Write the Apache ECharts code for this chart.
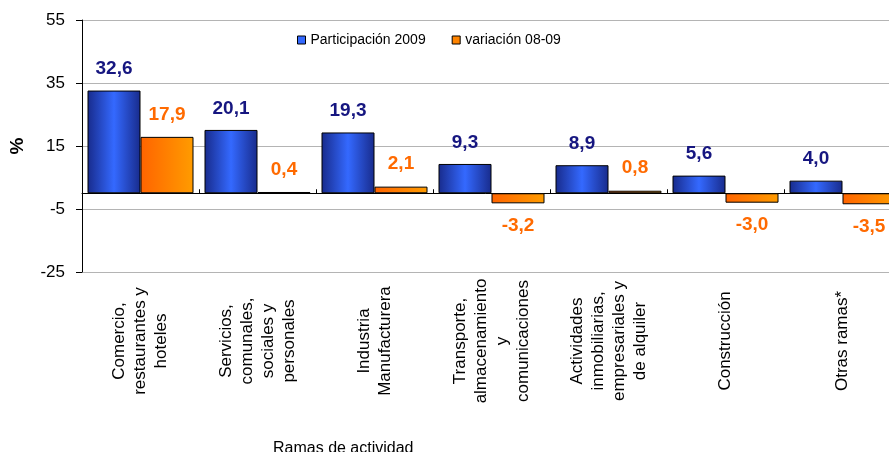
<!DOCTYPE html>
<html>
<head>
<meta charset="utf-8">
<script src="https://cdn.jsdelivr.net/npm/echarts@6/dist/echarts.min.js"></script>
<style>
  html, body { margin: 0; padding: 0; background: #ffffff; }
  #chart { width: 889px; height: 452px; }
</style>
</head>
<body>
<div id="chart"></div>
<script>
// datos del grafico
const ramas = [
  'Comercio,\nrestaurantes y\nhoteles',
  'Servicios,\ncomunales,\nsociales y\npersonales',
  'Industria\nManufacturera',
  'Transporte,\nalmacenamiento\ny\ncomunicaciones',
  'Actividades\ninmobiliarias,\nempresariales y\nde alquiler',
  'Construcción',
  'Otras ramas*'
];
const participacion2009 = [32.6, 20.1, 19.3, 9.3, 8.9, 5.6, 4.0];
const variacion0809 = [17.9, 0.4, 2.1, -3.2, 0.8, -3.0, -3.5];
const yTicks = [-25, -5, 15, 35, 55];

const fuente = 'Liberation Sans, Arial, sans-serif';
const fmt = v => v.toFixed(1).replace('.', ',');

const azul = new echarts.graphic.LinearGradient(0, 0, 1, 0, [
  { offset: 0, color: '#182b8c' },
  { offset: 0.5, color: '#3469ff' },
  { offset: 1, color: '#182b8c' }
]);
const naranja = new echarts.graphic.LinearGradient(0, 0, 1, 0, [
  { offset: 0, color: '#ff6400' },
  { offset: 1, color: '#ff9c00' }
]);

// etiquetas arriba o abajo segun el signo
const conEtiqueta = (values, color, dist) => values.map(v => ({
  value: v,
  label: {
    show: true,
    position: v < 0 ? 'bottom' : 'top',
    distance: dist,
    color: color,
    fontFamily: fuente,
    fontWeight: 'bold',
    fontSize: 19,
    formatter: p => fmt(p.value)
  }
}));

const chart = echarts.init(document.getElementById('chart'));
const option = {
  animation: false,
  backgroundColor: '#ffffff',
  textStyle: { fontFamily: fuente },
  grid: { left: 82, top: 20, bottom: 180, right: -12, containLabel: false, outerBoundsMode: 'none' },
  legend: {
    left: 297,
    top: 33,
    padding: 0,
    itemWidth: 8,
    itemHeight: 8,
    itemGap: 26,
    textStyle: { fontFamily: fuente, fontSize: 14, color: '#000000' },
    data: [
      { name: 'Participación 2009', icon: 'rect', itemStyle: { color: '#3469ff', borderColor: '#000000', borderWidth: 1 } },
      { name: 'variación 08-09', icon: 'rect', itemStyle: { color: '#ff8400', borderColor: '#000000', borderWidth: 1 } }
    ]
  },
  xAxis: {
    type: 'category',
    data: ramas,
    axisLine: { onZero: true, lineStyle: { color: '#000000', width: 1 } },
    axisTick: { show: true, inside: true, length: 4, lineStyle: { color: '#000000' } },
    axisLabel: {
      rotate: 90,
      align: 'center',
      verticalAlign: 'middle',
      margin: 69,
      interval: 0,
      hideOverlap: false,
      fontFamily: fuente,
      fontSize: 17,
      lineHeight: 21,
      color: '#000000'
    }
  },
  yAxis: {
    type: 'value',
    min: yTicks[0],
    max: yTicks[yTicks.length - 1],
    interval: 20,
    name: '%',
    nameLocation: 'middle',
    nameRotate: 90,
    nameGap: 55,
    nameTextStyle: { fontFamily: fuente, fontWeight: 'bold', fontSize: 19, color: '#000000' },
    axisLine: { show: true, lineStyle: { color: '#000000' } },
    axisTick: { show: true, length: 6, lineStyle: { color: '#000000' } },
    axisLabel: { fontFamily: fuente, fontSize: 17, color: '#000000', margin: 17 },
    splitLine: { show: true, lineStyle: { color: '#b4b4b4', width: 1 } }
  },
  series: [
    {
      name: 'Participación 2009',
      type: 'bar',
      barWidth: 53,
      barGap: '0%',
      itemStyle: { color: azul, borderColor: '#000000', borderWidth: 1 },
      data: conEtiqueta(participacion2009, '#161680', 12)
    },
    {
      name: 'variación 08-09',
      type: 'bar',
      barWidth: 53,
      barGap: '0%',
      itemStyle: { color: naranja, borderColor: '#000000', borderWidth: 1 },
      data: conEtiqueta(variacion0809, '#ff6a00', 13)
    }
  ],
  graphic: [
    {
      type: 'text',
      left: 273,
      top: 441,
      style: { text: 'Ramas de actividad', fontFamily: fuente, fontSize: 16, fill: '#000000' }
    }
  ]
};
chart.setOption(option);
</script>
</body>
</html>
